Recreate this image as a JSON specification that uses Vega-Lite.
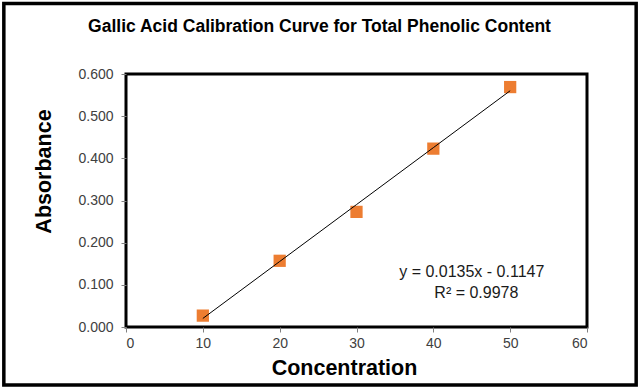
{
  "$schema": "https://vega.github.io/schema/vega-lite/v6.json",
  "autosize": {"type": "none"},
  "width": 461,
  "height": 253,
  "padding": {"left": 126, "top": 74, "right": 53, "bottom": 63},
  "background": "white",
  "title": {
    "text": "Gallic Acid Calibration Curve  for Total Phenolic Content",
    "font": "Liberation Sans",
    "fontSize": 17.5,
    "fontWeight": "bold",
    "color": "#000000",
    "anchor": "middle",
    "dx": -37,
    "offset": -34
  },
  "config": {
    "font": "Liberation Sans",
    "view": {"stroke": "#000000", "strokeWidth": 3}
  },
  "layer": [
    {
      "data": {"values": [{}]},
      "mark": {"type": "rect", "fill": null, "stroke": "#000000", "strokeWidth": 3.5, "clip": false},
      "encoding": {
        "x": {"datum": -15.9, "type": "quantitative", "scale": {"domain": [0, 60]}},
        "x2": {"datum": 66.4},
        "y": {"datum": 0.767, "type": "quantitative", "scale": {"domain": [0, 0.6]}},
        "y2": {"datum": -0.1375}
      }
    },
    {
      "data": {
        "values": [
          {"Concentration": 10, "Absorbance": 0.027, "Trend": 0.0203},
          {"Concentration": 20, "Absorbance": 0.157, "Trend": 0.1553},
          {"Concentration": 30, "Absorbance": 0.273, "Trend": 0.2903},
          {"Concentration": 40, "Absorbance": 0.423, "Trend": 0.4253},
          {"Concentration": 50, "Absorbance": 0.569, "Trend": 0.5603}
        ]
      },
      "layer": [
        {
          "mark": {"type": "square", "color": "#ED7D31", "opacity": 1, "size": 150},
          "encoding": {
            "x": {
              "field": "Concentration",
              "type": "quantitative",
              "scale": {"domain": [0, 60], "nice": false},
              "axis": {
                "title": "Concentration",
                "titleFont": "Liberation Sans",
                "titleFontSize": 21.5,
                "titleFontWeight": "bold",
                "titleColor": "#000000",
                "titlePadding": 7,
                "titleX": 218,
                "values": [0, 10, 20, 30, 40, 50, 60],
                "labelFont": "Liberation Sans",
                "labelFontSize": 14,
                "labelColor": "#404040",
                "labelPadding": 4,
                "tickColor": "#808080",
                "tickSize": 5,
                "domain": false,
                "grid": false
              }
            },
            "y": {
              "field": "Absorbance",
              "type": "quantitative",
              "scale": {"domain": [0, 0.6], "nice": false},
              "axis": {
                "title": "Absorbance",
                "titleFont": "Liberation Sans",
                "titleFontSize": 21.5,
                "titleFontWeight": "bold",
                "titleColor": "#000000",
                "titlePadding": 22,
                "titleY": 97,
                "values": [0, 0.1, 0.2, 0.3, 0.4, 0.5, 0.6],
                "format": ".3f",
                "labelFont": "Liberation Sans",
                "labelFontSize": 14,
                "labelColor": "#404040",
                "labelPadding": 8,
                "tickColor": "#808080",
                "tickSize": 5,
                "domain": false,
                "grid": false
              }
            }
          }
        },
        {
          "mark": {"type": "line", "color": "#000000", "strokeWidth": 1},
          "encoding": {
            "x": {"field": "Concentration", "type": "quantitative"},
            "y": {"field": "Trend", "type": "quantitative"}
          }
        }
      ]
    },
    {
      "data": {
        "values": [
          {"label": "y = 0.0135x - 0.1147", "lx": 45.0, "ly": 0.131},
          {"label": "R² = 0.9978", "lx": 45.6, "ly": 0.081}
        ]
      },
      "mark": {"type": "text", "font": "Liberation Sans", "fontSize": 16, "color": "#1a1a1a", "align": "center", "baseline": "middle"},
      "encoding": {
        "x": {"field": "lx", "type": "quantitative"},
        "y": {"field": "ly", "type": "quantitative"},
        "text": {"field": "label"}
      }
    }
  ]
}
